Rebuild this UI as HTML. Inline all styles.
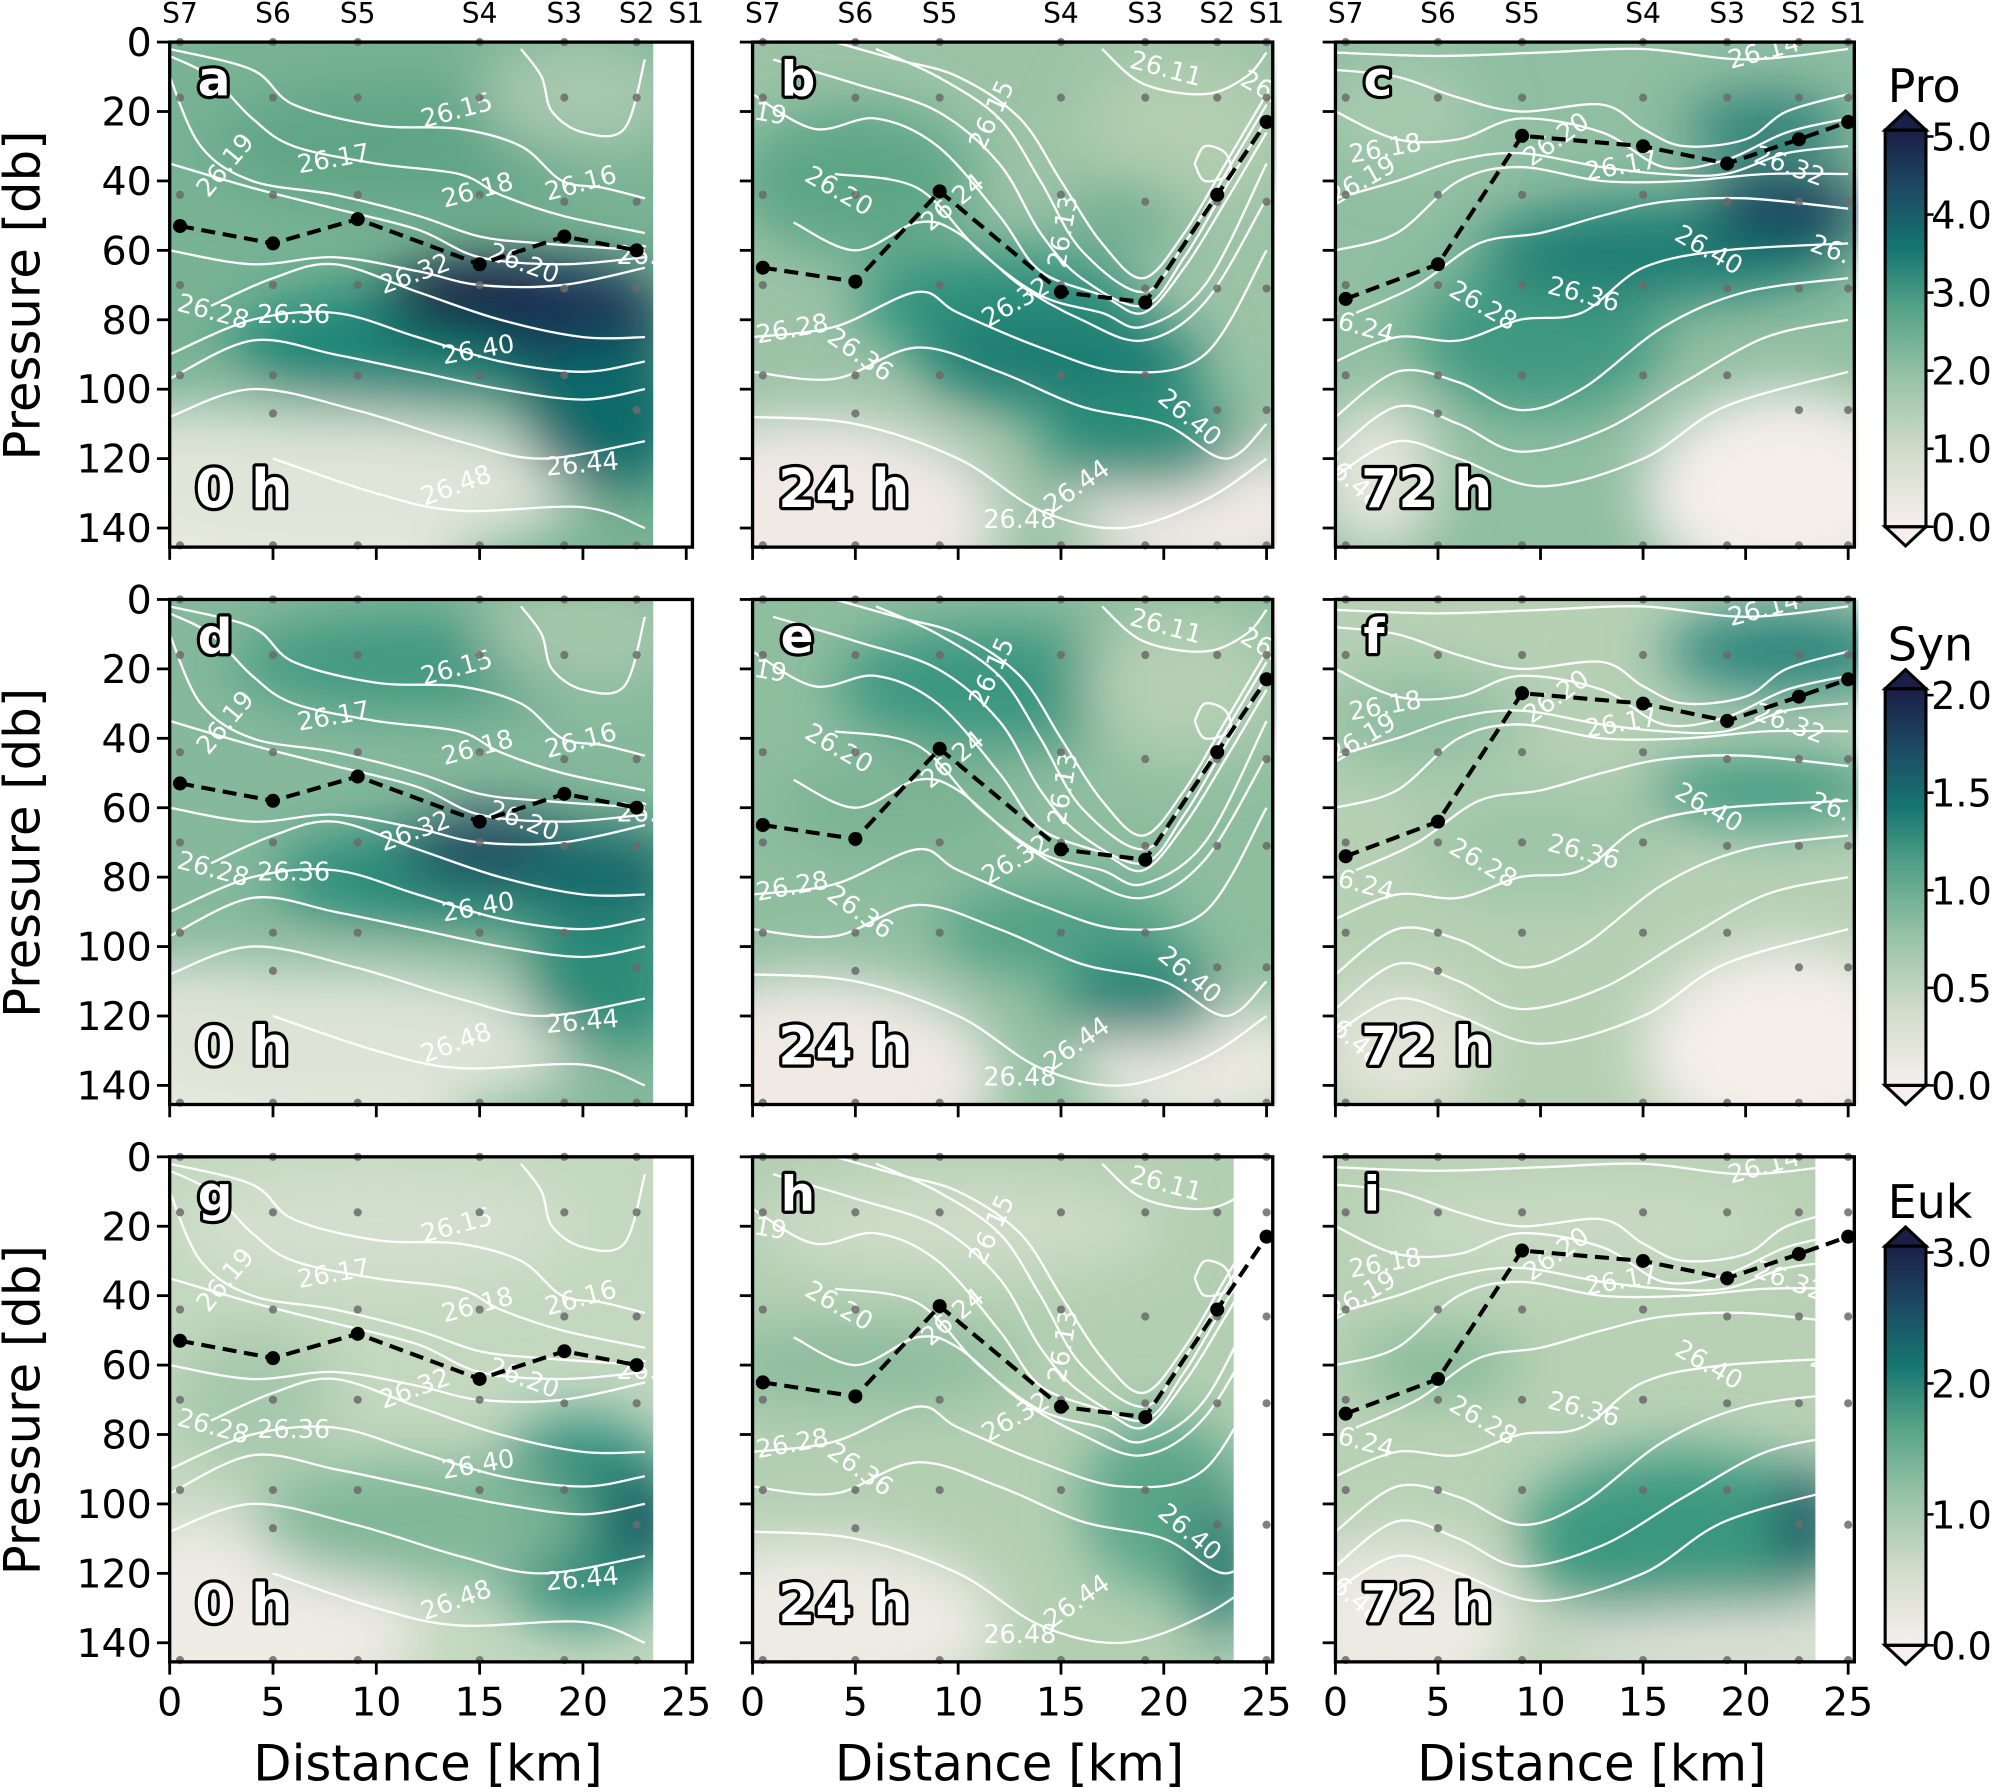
<!DOCTYPE html>
<html><head><meta charset="utf-8">
<style>
html,body{margin:0;padding:0;background:#fff;}
svg{display:block;font-family:"DejaVu Sans","Liberation Sans",sans-serif;}
.lbl{paint-order:stroke;stroke:#000;stroke-width:5px;stroke-linejoin:round;fill:#fff;font-weight:bold;}
</style></head>
<body>
<svg id="fig" width="2000" height="1792" viewBox="0 0 1568 1405" xmlns="http://www.w3.org/2000/svg">
<defs>
  <filter id="blur" x="-50%" y="-50%" width="200%" height="200%"><feGaussianBlur stdDeviation="22"/></filter>
  <linearGradient id="cbar" x1="0" y1="1" x2="0" y2="0">
    <stop offset="0" stop-color="#f7efed"/>
    <stop offset="0.18" stop-color="#d3ddcb"/>
    <stop offset="0.38" stop-color="#96c2a4"/>
    <stop offset="0.55" stop-color="#55a288"/>
    <stop offset="0.70" stop-color="#167670"/>
    <stop offset="0.85" stop-color="#1d4a63"/>
    <stop offset="1" stop-color="#1b1e47"/>
  </linearGradient>
</defs>
<g id="root"></g>
</svg>
<script>
// ---- data ----
const stations = ["S7","S6","S5","S4","S3","S2","S1"];
const stationKm = [0.5, 5, 9.1, 15, 19.1, 22.6, 25];
const mldKm0 = [0.5, 5, 9.1, 15, 19.1, 22.6];
const mldP0 = [53, 58, 51, 64, 56, 60];
const mldKm24 = [0.5, 5, 9.1, 15, 19.1, 22.6, 25];
const mldP24 = [65, 69, 43, 72, 75, 44, 23];
const mldKm72 = [0.5, 5, 9.1, 15, 19.1, 22.6, 25];
const mldP72 = [74, 64, 27, 30, 35, 28, 23];
const xTicks = [0, 5, 10, 15, 20, 25];
const yTicks = [0, 20, 40, 60, 80, 100, 120, 140];
const panelLetters = ["a","b","c","d","e","f","g","h","i"];
const timeLabels = ["0 h","24 h","72 h"];
const cbNames = ["Pro","Syn","Euk"];
const cbMax = [5, 2, 3];
const cbTicks = [[0,1,2,3,4,5],[0,0.5,1,1.5,2],[0,1,2,3]];
const sampleP = [[0,16,44,70,96,145],[0,16,44,70,96,107,145],[0,16,44,70,96,145],[0,16,44,70,96,145],[0,16,46,71,96,145],[0,16,46,71,106,145],[0,16,46,71,106,145]];

// contour lines per time column (km, db)
const contours = [
 [
  [[0,2],[4,8],[6,18],[10,24],[14,25],[17,30],[19,40],[21,42],[23,45]],
  [[0,4],[2,10],[4,22],[6,30],[10,35],[14,38],[16,44],[19,50],[23,55]],
  [[0,10],[1.5,30],[4,40],[8,44],[12,50],[15,56],[18,58],[23,60]],
  [[0,35],[4,42],[8,48],[12,54],[15,62],[19,64],[23,62]],
  [[0,60],[4,64],[8,62],[12,66],[15,70],[19,70],[23,65]],
  [[2,76],[5,68],[8,64],[12,72],[16,80],[20,85],[23,85]],
  [[0,90],[4,80],[8,78],[12,85],[16,92],[20,95],[23,92]],
  [[0,97],[4,86],[8,90],[12,95],[16,100],[20,103],[23,100]],
  [[0,108],[4,100],[9,106],[14,115],[18,120],[23,115]],
  [[5,120],[10,130],[14,135],[20,134],[23,140]],
  [[17,2],[18,10],[18.5,20],[20,26],[22,25],[23,5]]
 ],
 [
  [[4,0],[7,5],[10,10],[13,22],[15,40],[17,58],[19,68],[21,55],[23,35],[25,15]],
  [[6,2],[9,10],[12,22],[14,40],[16,60],[19,72],[21,58],[23,38],[25,18]],
  [[1,5],[5,12],[9,20],[12,35],[14,55],[16,68],[19,76],[21,62],[23,42],[25,22]],
  [[0,15],[3,25],[6,22],[9,30],[12,50],[14,66],[17,73],[19,78],[21,65],[23,46],[25,26]],
  [[4,38],[8,42],[11,60],[14,73],[17,78],[19,82],[22,70],[25,35]],
  [[2,52],[5,60],[8,52],[10,55],[13,70],[16,80],[19,86],[22,75],[25,45]],
  [[0,85],[4,82],[8,72],[10,78],[14,88],[18,95],[22,90],[25,60]],
  [[0,95],[4,97],[8,88],[12,95],[16,105],[20,110],[23,120],[25,110]],
  [[0,108],[5,110],[10,120],[14,135],[18,140],[22,132],[25,120]],
  [[17,2],[19,12],[22,15],[24,10],[25,3]],
  [[21.5,35],[22,30],[23,32],[23.2,38],[22,40],[21.5,35]]
 ],
 [
  [[0,3],[5,4],[10,3],[15,2],[20,5],[25,2]],
  [[0,8],[3,10],[6,16],[9,20],[13,18],[15,25],[17,30],[20,28],[22,20],[25,15]],
  [[0,20],[3,28],[6,28],[9,22],[13,26],[16,36],[19,34],[22,26],[25,22]],
  [[0,45],[3,40],[6,34],[9,32],[13,36],[16,38],[19,38],[22,32],[25,30]],
  [[0,60],[3,55],[6,40],[9,36],[13,40],[17,40],[21,38],[25,38]],
  [[1,78],[4,70],[7,58],[10,55],[13,50],[16,46],[20,45],[25,48]],
  [[0,92],[3,85],[6,86],[9,80],[12,78],[15,65],[19,60],[25,58]],
  [[0,108],[3,95],[6,98],[9,106],[12,100],[16,82],[20,72],[25,68]],
  [[0,118],[3,105],[6,110],[9,118],[13,112],[17,98],[21,85],[25,80]],
  [[0,125],[3,115],[6,120],[10,128],[15,120],[19,105],[25,95]]
 ]
];
const contourLabels = [
 [["26.15",14,22,-15],["26.19",3,37,-50],["26.17",8,36,-10],["26.18",15,45,-15],["26.16",20,43,-15],["26.20",17,66,20],["26.32",12,69,-20],["26.28",2,80,15],["26.36",6,81,0],["26.40",15,91,-10],["26.44",20,124,-5],["26.48",14,130,-20],["26.2",23,64,0]],
 [["26.11",20,10,15],["26.20",4,45,30],["26.24",10,48,-40],["26.15",12,22,-65],["26.13",15.5,55,-80],["26.32",13,77,-30],["26.28",2,85,-10],["26.36",5,92,35],["26.40",21,110,40],["26.44",16,130,-35],["26.48",13,140,0],["19",0.8,23,10],["26.",24.5,15,30]],
 [["26.14",21,5,-15],["26.18",2.5,33,-10],["26.19",1.5,42,-30],["26.20",11,30,-35],["26.17",14,38,-10],["26.32",22,38,20],["26.40",18,62,30],["26.36",12,75,15],["26.28",7,78,30],["26.24",1,84,15],["26.48",0.5,128,40],["26.",24,62,20]]
];
// background fill blobs per panel: km, db, rx(km), ry(db), colour
const blobs = [
 [[2,145,12,40,"#f2ece7"],[8,128,12,22,"#dfe5d8"],[12,30,10,18,"#5fa486"],[20,15,5,18,"#a6c8ad"],[12,88,9,18,"#1f8678"],[16,74,6,12,"#121a44"],[20,82,4,18,"#182f55"],[21,108,4,22,"#0f6b6a"]],
 [[3,138,9,30,"#f1e9e6"],[22,135,6,20,"#f3ebe7"],[5,40,6,22,"#5ba686"],[12,75,7,16,"#2f917d"],[15,92,7,14,"#1a7c72"],[19,115,5,15,"#2c8d79"],[21,25,5,22,"#b2ceb1"],[18,50,3,10,"#6eae90"]],
 [[22,130,7,30,"#f5eeeb"],[2,125,3,22,"#e5e6da"],[10,85,6,22,"#3f9981"],[16,60,9,14,"#1d7d73"],[22,48,4,10,"#17375a"],[21,25,4,10,"#2c7f78"],[3,20,4,15,"#a8caaf"]],
 [[2,145,12,40,"#f2ece7"],[8,128,12,22,"#dde4d6"],[12,18,9,14,"#3f9880"],[20,10,5,15,"#a5c7ac"],[13,80,8,15,"#2a8c7a"],[16,72,5,10,"#1a3c5c"],[21,80,4,15,"#15676a"],[21,110,4,20,"#2a8b78"]],
 [[3,138,9,30,"#f0e9e4"],[22,135,6,20,"#eae9e0"],[12,25,8,18,"#3b9680"],[7,60,6,15,"#7ab393"],[19,115,4,12,"#1e8074"],[15,95,6,12,"#4b9e84"],[21,25,5,22,"#b4cfb3"]],
 [[22,130,7,30,"#f5eeeb"],[3,130,4,20,"#e3e4d8"],[22,15,6,12,"#27827a"],[21,55,6,10,"#3d9880"],[10,70,6,18,"#9fc6a8"],[4,35,5,15,"#8fbea0"]],
 [[2,135,10,30,"#efebe5"],[10,20,10,18,"#d2dfcc"],[20,105,5,30,"#2c8b79"],[23,105,1.5,12,"#12405a"],[12,105,8,18,"#7fb797"],[4,70,4,20,"#a5c8ab"]],
 [[3,135,9,25,"#eeebe4"],[10,20,10,15,"#cddcc7"],[5,60,8,12,"#8cbb9d"],[20,100,4,25,"#5aa688"],[22.8,118,1.5,20,"#14706b"]],
 [[3,135,6,25,"#edeae3"],[12,20,10,15,"#c7d9c2"],[17,110,8,25,"#3b987f"],[23,105,1.5,15,"#164a60"],[5,60,4,8,"#7ab592"],[20,140,10,10,"#e3e5db"]]
];
const baseColors = ["#78b393","#9cc3a6","#8fbea0","#86b99b","#8fbe9f","#b6d0b4","#c3d8bf","#b3cfb2","#b8d1b5"];
const dataEnd = [23.4,25.5,25.5,23.4,25.5,25.5,23.4,23.4,23.4];

// ---- layout ----
const NS = "http://www.w3.org/2000/svg";
const root = document.getElementById("root");
const x0 = [133, 590, 1047], x25 = [538, 993, 1449];
const y0 = [33, 470, 907], pxPerDb = 381/140;
const KM_MAX = 25.3, P_MAX = 145.5;
function X(c, km){ return x0[c] + km*(x25[c]-x0[c])/25; }
function Y(r, p){ return y0[r] + p*pxPerDb; }
function el(tag, attrs, parent){ const e = document.createElementNS(NS, tag); for (const k in attrs) e.setAttribute(k, attrs[k]); (parent||root).appendChild(e); return e; }
function smooth(pts){
  let d = "M" + pts[0][0].toFixed(1) + "," + pts[0][1].toFixed(1);
  for (let i=0;i<pts.length-1;i++){
    const p0 = pts[Math.max(i-1,0)], p1 = pts[i], p2 = pts[i+1], p3 = pts[Math.min(i+2,pts.length-1)];
    const c1 = [p1[0]+(p2[0]-p0[0])/6, p1[1]+(p2[1]-p0[1])/6];
    const c2 = [p2[0]-(p3[0]-p1[0])/6, p2[1]-(p3[1]-p1[1])/6];
    d += " C"+c1[0].toFixed(1)+","+c1[1].toFixed(1)+" "+c2[0].toFixed(1)+","+c2[1].toFixed(1)+" "+p2[0].toFixed(1)+","+p2[1].toFixed(1);
  }
  return d;
}
const mlds = [[mldKm0,mldP0],[mldKm24,mldP24],[mldKm72,mldP72]];

for (let r=0;r<3;r++){
  for (let c=0;c<3;c++){
    const idx = r*3+c;
    const g = el("g", {});
    
    
    const L = X(c,0), R = X(c,KM_MAX), T = Y(r,0), B = Y(r,P_MAX);
    const cp = el("clipPath", {id:"clip"+idx}, g);
    el("rect", {x:L, y:T, width:X(c,dataEnd[idx])-L, height:B-T}, cp);
    const fill = el("g", {"clip-path":"url(#clip"+idx+")"}, g);
    
    
    el("rect", {x:L, y:T, width:R-L, height:B-T, fill:baseColors[idx]}, fill);
    const bg = el("g", {filter:"url(#blur)"}, fill);
    blobs[idx].forEach(b=>{
      const e = el("ellipse", {cx:X(c,b[0]), cy:Y(r,b[1]), rx:b[2]*(x25[c]-x0[c])/25, ry:b[3]*pxPerDb, fill:b[4]}, bg);
      
      
    });
    const cg = el("g", {fill:"none", stroke:"#fff", "stroke-width":"1.8"}, fill);
    contours[c].forEach(line=>{
      const p = el("path", {d:smooth(line.map(q=>[X(c,q[0]),Y(r,q[1])]))}, cg);
      
      
    });
    contourLabels[c].forEach(lb=>{
      const x = X(c,lb[1]), y = Y(r,lb[2]);
      const t = el("text", {x:x, y:y, fill:"#fff", "font-size":"20", "text-anchor":"middle", transform:"rotate("+lb[3]+" "+x+" "+y+")"}, fill);
      t.textContent = lb[0];
      
      
    });
    stationKm.forEach((km,si)=>{
      if (km > dataEnd[idx] + 0.5 && !(idx===7||idx===8)) return;
      sampleP[si].forEach(p=>{
        const d = el("circle", {cx:X(c,km), cy:Y(r,p), r:3.2, fill:"#6b6b6b", opacity:0.85}, g);
        
        
      });
    });
    const [mk, mp] = mlds[c];
    const pts = mk.map((k,i)=>[X(c,k),Y(r,mp[i])]);
    const ml = el("polyline", {points:pts.map(q=>q.join(",")).join(" "), fill:"none", stroke:"#000", "stroke-width":"3.2", "stroke-dasharray":"11,6"}, g);
    
    
    pts.forEach(q=>{
      const d = el("circle", {cx:q[0], cy:q[1], r:5.5, fill:"#000"}, g);
      
      
    });
    const fr = el("rect", {x:L, y:T, width:R-L, height:B-T, fill:"none", stroke:"#000", "stroke-width":"2.6"}, g);
    
    
    xTicks.forEach(v=>{
      el("line", {x1:X(c,v), x2:X(c,v), y1:B, y2:B+10, stroke:"#000", "stroke-width":"2.2"}, g);
      if (r===2){
        const t = el("text", {x:X(c,v), y:B+42, "font-size":"31", "text-anchor":"middle"}, g);
        t.textContent = v;
        
        
      }
    });
    yTicks.forEach(v=>{
      el("line", {x1:L, x2:L-10, y1:Y(r,v), y2:Y(r,v), stroke:"#000", "stroke-width":"2.2"}, g);
      if (c===0){
        const t = el("text", {x:L-14, y:Y(r,v)+11, "font-size":"31", "text-anchor":"end"}, g);
        t.textContent = v;
        
        
      }
    });
    if (r===0){
      stations.forEach((s,si)=>{
        const t = el("text", {x:X(c,stationKm[si]), y:18, "font-size":"22", "text-anchor":"middle"}, g);
        t.textContent = s;
        
        
      });
    }
    const pl = el("text", {x:L+22, y:T+42, "font-size":"38", class:"lbl"}, g);
    pl.textContent = panelLetters[idx];
    
    
    const tl = el("text", {x:L+20, y:Y(r,134), "font-size":"42", class:"lbl"}, g);
    tl.textContent = timeLabels[c];
    
    
    if (c===0){
      const yl = el("text", {x:0, y:0, "font-size":"39", "text-anchor":"middle", transform:"translate(31 "+Y(r,73)+") rotate(-90)"}, g);
      yl.textContent = "Pressure [db]";
      
      
    }
    if (r===2){
      const xl = el("text", {x:(X(c,0)+X(c,25))/2, y:1396, "font-size":"39", "text-anchor":"middle"}, g);
      xl.textContent = "Distance [km]";
      
      
    }
  }
  const cb = el("g", {});
  
  
  const top = [102,540,977][r], bot = [413,851,1290][r];
  const cx0 = 1478, cx1 = 1510;
  el("rect", {x:cx0, y:top, width:cx1-cx0, height:bot-top, fill:"url(#cbar)"}, cb);
  el("polygon", {points:cx0+","+top+" "+(cx0+cx1)/2+","+(top-15)+" "+cx1+","+top, fill:"#1b1e47", stroke:"#000", "stroke-width":"2.4"}, cb);
  el("polygon", {points:cx0+","+bot+" "+(cx0+cx1)/2+","+(bot+15)+" "+cx1+","+bot, fill:"#f7efed", stroke:"#000", "stroke-width":"2.4"}, cb);
  el("rect", {x:cx0, y:top, width:cx1-cx0, height:bot-top, fill:"none", stroke:"#000", "stroke-width":"2.4"}, cb);
  cbTicks[r].forEach(v=>{
    const y = bot - (v/cbMax[r])*(bot-top-5);
    el("line", {x1:cx1, x2:cx1+6, y1:y, y2:y, stroke:"#000", "stroke-width":"2"}, cb);
    const t = el("text", {x:cx1+4, y:y+11, "font-size":"30"}, cb);
    t.textContent = v.toFixed(1);
    
    
  });
  const nm = el("text", {x:1480, y:top-22, "font-size":"36"}, cb);
  nm.textContent = cbNames[r];
  
  
}
</script>
</body></html>
